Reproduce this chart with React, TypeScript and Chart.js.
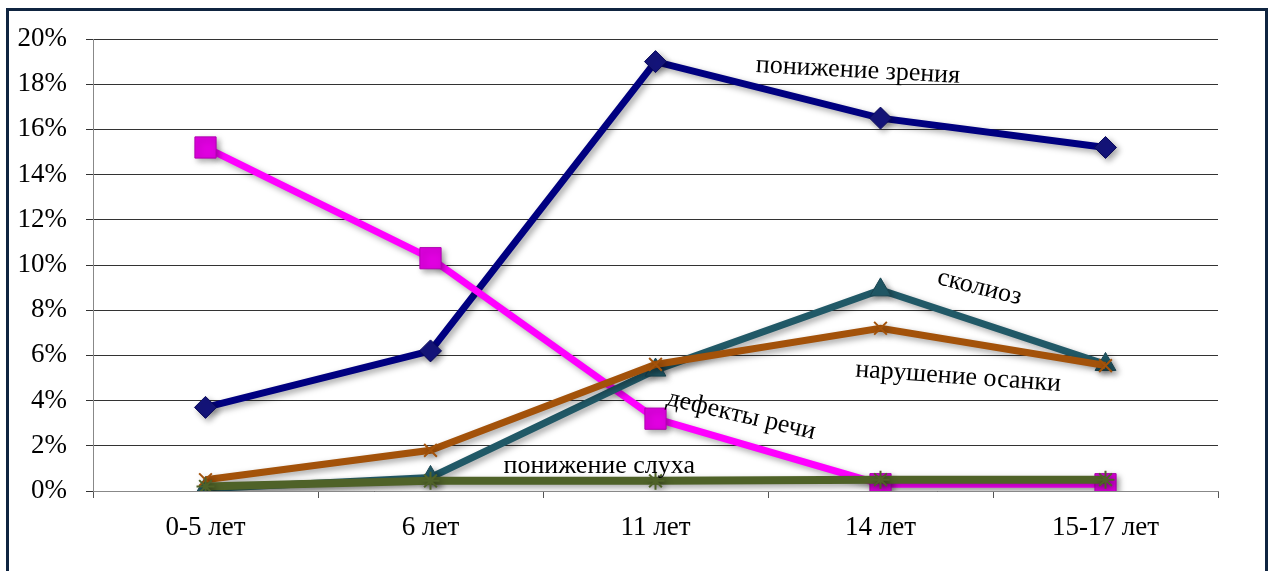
import React, { useEffect, useRef } from "react";
import { Chart, registerables } from "chart.js";

Chart.register(...registerables);

const categories = ["0-5 лет", "6 лет", "11 лет", "14 лет", "15-17 лет"];
const visionValues = [3.7, 6.2, 19.0, 16.5, 15.2];
const speechValues = [15.2, 10.3, 3.2, 0.3, 0.3];
const scoliosisValues = [0.1, 0.6, 5.35, 8.9, 5.6];
const postureValues = [0.5, 1.8, 5.6, 7.2, 5.55];
const hearingValues = [0.2, 0.45, 0.45, 0.5, 0.5];
const yTicks = [0, 2, 4, 6, 8, 10, 12, 14, 16, 18, 20];

const seriesNames = ["понижение зрения", "дефекты речи", "сколиоз", "нарушение осанки", "понижение слуха"];

// annotation labels: [text, category position, value, angle deg]
const labelTexts = seriesNames;
const labelX = [2.9, 2.38, 3.44, 3.345, 1.75];
const labelY = [18.6, 3.35, 9.0, 5.05, 1.1];
const labelAngle = [3, 13, 14, 4, 0];

const FONT = "'Liberation Serif', 'Times New Roman', serif";

const shadowPlugin = {
  id: "shadowPlugin",
  beforeDatasetsDraw(chart: any) {
    const ctx = chart.ctx;
    ctx.save();
    ctx.shadowColor = "rgba(0,0,0,0.35)";
    ctx.shadowBlur = 6;
    ctx.shadowOffsetX = 3;
    ctx.shadowOffsetY = 3;
  },
  afterDatasetsDraw(chart: any) {
    chart.ctx.restore();
  },
};

const labelPlugin = {
  id: "labelPlugin",
  afterDatasetsDraw(chart: any) {
    const ctx = chart.ctx;
    const xs = chart.scales.x;
    const ys = chart.scales.y;
    const step = xs.getPixelForValue(1) - xs.getPixelForValue(0);
    const x0 = xs.getPixelForValue(0);
    ctx.save();
    ctx.font = `26px ${FONT}`;
    ctx.fillStyle = "#000";
    ctx.textAlign = "center";
    ctx.textBaseline = "middle";
    labelTexts.forEach((t, i) => {
      const px = x0 + step * labelX[i];
      const py = ys.getPixelForValue(labelY[i]);
      ctx.save();
      ctx.translate(px, py);
      ctx.rotate((labelAngle[i] * Math.PI) / 180);
      ctx.fillText(t, 0, 0);
      ctx.restore();
    });
    ctx.restore();
  },
};

export default function App() {
  const ref = useRef<HTMLCanvasElement | null>(null);

  useEffect(() => {
    const canvas = ref.current;
    if (!canvas) return;
    const mk = (
      label: string,
      data: number[],
      color: string,
      pointStyle: string,
      radius: number,
      pointBorder: string,
      pointBg: string,
      pbw: number,
      bw: number
    ) => ({
      label,
      data,
      borderColor: color,
      backgroundColor: pointBg,
      pointBackgroundColor: pointBg,
      pointBorderColor: pointBorder,
      pointBorderWidth: pbw,
      pointStyle,
      pointRadius: radius,
      borderWidth: bw,
      tension: 0,
      fill: false,
    });

    const chart = new Chart(canvas, {
      type: "line",
      data: {
        labels: categories,
        datasets: [
          mk(seriesNames[4], hearingValues, "#4F6228", "star", 9, "#4F6228", "#4F6228", 2, 8),
          mk(seriesNames[3], postureValues, "#A3520A", "crossRot", 9, "#A3520A", "#A3520A", 2, 7),
          mk(seriesNames[2], scoliosisValues, "#215967", "triangle", 12, "#1A4652", "#215967", 1, 7),
          mk(seriesNames[1], speechValues, "#FF00FF", "rect", 15, "#B000B0", "#E000E0", 1, 7),
          mk(seriesNames[0], visionValues, "#000080", "rectRot", 11, "#0A0A5A", "#14147A", 1, 7),
        ] as any,
      },
      options: {
        animation: false,
        responsive: false,
        maintainAspectRatio: false,
        layout: { padding: { top: 39, right: 52, left: 0, bottom: 0 } },
        plugins: {
          legend: { display: false },
          tooltip: { enabled: false },
        },
        scales: {
          x: {
            type: "category",
            offset: true,
            grid: {
              offset: true,
              drawOnChartArea: false,
              drawTicks: true,
              tickLength: 7,
              color: "#555",
            },
            border: { display: true, color: "#888", width: 1 },
            ticks: {
              padding: 14,
              color: "#000",
              font: { family: FONT, size: 27 },
              maxRotation: 0,
            },
            afterFit(scale: any) {
              scale.height = 80;
            },
          },
          y: {
            min: 0,
            max: 20,
            afterBuildTicks(scale: any) {
              scale.ticks = yTicks.map((v) => ({ value: v }));
            },
            grid: {
              color: "#333",
              lineWidth: 1,
              tickLength: 7,
            },
            border: { display: true, color: "#888", width: 1 },
            ticks: {
              padding: 19,
              color: "#000",
              font: { family: FONT, size: 27 },
              callback: (v: any) => `${v}%`,
            },
            afterFit(scale: any) {
              scale.width = 93;
            },
          },
        },
      } as any,
      plugins: [shadowPlugin, labelPlugin],
    });
    return () => chart.destroy();
  }, []);

  return (
    <div style={{ position: "fixed", left: 0, top: 0, width: 1270, height: 571, background: "#fff", overflow: "hidden" }}>
      <canvas ref={ref} width={1270} height={571} style={{ display: "block", width: 1270, height: 571 }} />
      <div
        style={{
          position: "absolute",
          left: 6,
          top: 8,
          width: 1256,
          height: 600,
          border: "3px solid #0F2440",
          pointerEvents: "none",
        }}
      />
    </div>
  );
}
